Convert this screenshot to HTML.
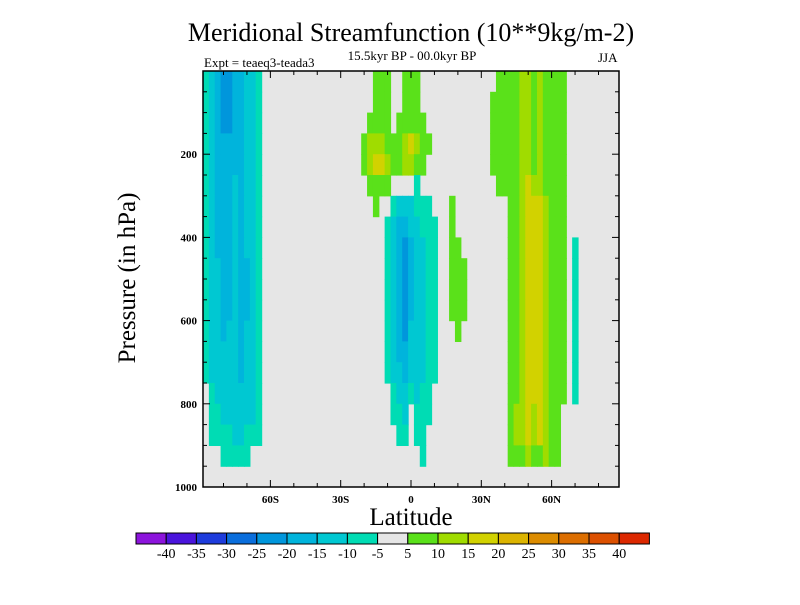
<!DOCTYPE html>
<html><head><meta charset="utf-8"><style>
body{margin:0;background:#fff;}
svg text{font-family:"Liberation Serif",serif;fill:#000;}
</style></head><body>
<svg id="chart" width="800" height="600" viewBox="0 0 800 600" xmlns="http://www.w3.org/2000/svg">
<text x="411" y="41" font-size="26" text-anchor="middle">Meridional Streamfunction (10**9kg/m-2)</text>
<text x="412" y="60" font-size="13" text-anchor="middle">15.5kyr BP - 00.0kyr BP</text>
<text x="204" y="67" font-size="13">Expt = teaeq3-teada3</text>
<text x="598" y="62" font-size="13">JJA</text>
<text x="0" y="0" font-size="25" text-anchor="middle" transform="translate(135,278) rotate(-90)">Pressure (in hPa)</text>
<text x="411" y="525" font-size="25" text-anchor="middle">Latitude</text>
<g id="plot"></g>
<g id="axes"></g>
<g id="cbar"></g>
</svg>
<script>
// ---- data ----
const levels = [-40,-35,-30,-25,-20,-15,-10,-5,5,10,15,20,25,30,35,40];
const levelLabels = ["-40","-35","-30","-25","-20","-15","-10","-5","5","10","15","20","25","30","35","40"];
const colors = ["#8c14dc","#4a14dc","#1e3cdc","#0a6edc","#0096dc","#00b4dc","#00c8d2","#00dcb4","#e6e6e6","#5ae11a","#a0dc00","#d2d200","#dcb400","#dc8c00","#dc6e00","#dc5000","#dc2800"];
const codeValues = {".":0,"A":-7,"B":-12,"C":-17,"D":-22,"a":7,"b":12,"c":17};
const latCenters0 = -87.5, latStep = 2.5;
const pStep = 50;
const yTicks = [200,400,600,800,1000];
const xTickLats = [-60,-30,0,30,60];
const xTickLabels = ["60S","30S","0","30N","60N"];
// [row, startColumn, codes]
const runs = [
 [0,0,"ABCDDCCBBA"],[1,0,"ABCDDCCBBA"],[2,0,"ABCDDCCBBA"],[3,0,"ABCCCCCBBA"],[4,0,"ABCCCCCBBA"],
 [5,0,"ABCCCBCBBA"],[6,0,"ABCCCBCBBA"],[7,0,"ABCCCBCBBA"],[8,0,"ABCCCBCBBA"],
 [9,0,"ABBCCBCCBA"],[10,0,"ABBCCBCCBA"],[11,0,"ABBCCBCCBA"],[12,0,"ABBCBBCBBA"],
 [13,0,"ABBBBBCBBA"],[14,0,"ABBBBBCBBA"],[15,0,".ABBBBBBBA"],[16,0,".AABBBBBBA"],
 [17,0,".AAAABBAAA"],[18,0,"...AAAAA.."],
 [0,29,"aaa"],[0,34,"aaa"],[1,29,"aaa"],[1,34,"aaa"],
 [2,28,"aaaa.aaaaa"],[3,27,"abbbaaabcbaa"],[4,27,"abccbaabbaa"],[5,28,"aaaa"],[5,36,"A"],[6,29,"a"],
 [6,32,"ABBBAAA"],[7,31,"ABCCBBAAA"],[8,31,"ABCDCBBAA"],[9,31,"ABCDCBBAA"],[10,31,"ABCDCBBAA"],
 [11,31,"ABCDCBBAA"],[12,31,"ABCDBBBAA"],[13,31,"ABCCBBBAA"],[14,31,"ABBCBBBAA"],
 [15,32,"ABBABAA"],[16,32,"AAB.AAA"],[17,33,"AA.AA"],[18,37,"A"],
 [6,42,"a"],[7,42,"a"],[8,42,"aa"],[9,42,"aaa"],[10,42,"aaa"],[11,42,"aaa"],[12,43,"a"],
 [0,50,"aaaabbabaaaa"],[1,49,"aaaaabbabaaaa"],[2,49,"aaaaabbabaaaa"],[3,49,"aaaaabbabaaaa"],[4,49,"aaaaabbabaaaa"],
 [5,50,"aaaabcbbaaaa"],
 [6,52,"aabcccbaaa"],[7,52,"aabcccbaaa"],[8,52,"aabcccbaaa"],[9,52,"aabcccbaaa"],[10,52,"aabcccbaaa"],
 [11,52,"aabcccbaaa"],[12,52,"aabcccbaaa"],[13,52,"aabcccbaaa"],[14,52,"aabcccbaaa"],[15,52,"aabcccbaaa"],
 [16,52,"abbcbcbaa"],[17,52,"abbcbcbaa"],[18,52,"aaabaabaa"],
 [8,63,"A"],[9,63,"A"],[10,63,"A"],[11,63,"A"],[12,63,"A"],[13,63,"A"],[14,63,"A"],[15,63,"A"]
];
// ---- scales ----
const X0=203, X1=619, Y0=71, Y1=487, LATMIN=-88.75, LATMAX=88.75;
const xOf = lat => X0 + (lat-LATMIN)/(LATMAX-LATMIN)*(X1-X0);
const yOf = p => Y0 + p/1000*(Y1-Y0);
const colorOf = v => { let i=0; for(const l of levels){ if(v>=l) i++; } return colors[i]; };
const NS="http://www.w3.org/2000/svg";
function mk(tag, attrs, parent){ const e=document.createElementNS(NS,tag); for(const k in attrs) e.setAttribute(k,attrs[k]); parent.appendChild(e); return e; }
const plot=document.getElementById('plot'), axes=document.getElementById('axes'), cbar=document.getElementById('cbar');
const bg = mk('rect',{x:X0,y:Y0,width:X1-X0,height:Y1-Y0,fill:colors[8]},plot);


for(const [row,start,codes] of runs){
  for(let k=0;k<codes.length;k++){
    const v=codeValues[codes[k]]; if(v===0) continue;
    const lat=latCenters0+(start+k)*latStep;
    const xa=xOf(lat-latStep/2), xb=xOf(lat+latStep/2);
    const ya=yOf(row*pStep), yb=yOf((row+1)*pStep);
    const r=mk('rect',{x:xa.toFixed(2),y:ya.toFixed(2),width:(xb-xa+0.6).toFixed(2),height:(yb-ya+0.6).toFixed(2),fill:colorOf(v)},plot);
    
    
  }
}
const frame = mk('rect',{x:X0,y:Y0,width:X1-X0,height:Y1-Y0,fill:'none',stroke:'#000','stroke-width':1.5},axes);


for(let p=50;p<=1000;p+=50){
  const y=yOf(p), major=yTicks.includes(p), L=major?7:4;
  mk('line',{x1:X0,x2:X0+L,y1:y,y2:y,stroke:'#000','stroke-width':1},axes);
  mk('line',{x1:X1,x2:X1-L,y1:y,y2:y,stroke:'#000','stroke-width':1},axes);
}
yTicks.forEach(p=>{
  const t=mk('text',{x:X0-6,y:yOf(p)+4,'font-size':11,'font-weight':'bold','text-anchor':'end'},axes);
  t.textContent=String(p);
  
  
});
for(let lat=-80;lat<=80;lat+=10){
  const x=xOf(lat), major=xTickLats.includes(lat), L=major?7:4;
  mk('line',{x1:x,x2:x,y1:Y1,y2:Y1-L,stroke:'#000','stroke-width':1},axes);
  mk('line',{x1:x,x2:x,y1:Y0,y2:Y0+L,stroke:'#000','stroke-width':1},axes);
}
xTickLats.forEach((lat,i)=>{
  const t=mk('text',{x:xOf(lat),y:Y1+16,'font-size':11,'font-weight':'bold','text-anchor':'middle'},axes);
  t.textContent=xTickLabels[i];
  
  
});
const CB0=136, CBW=30.2, CBY=533, CBH=11;
colors.forEach((c,i)=>{
  const r=mk('rect',{x:CB0+i*CBW,y:CBY,width:CBW,height:CBH,fill:c,stroke:'#000','stroke-width':1},cbar);
  
  
});
levelLabels.forEach((s,i)=>{
  const t=mk('text',{x:CB0+(i+1)*CBW,y:558,'font-size':14,'text-anchor':'middle'},cbar);
  t.textContent=s;
  
  
});
</script>
</body></html>
